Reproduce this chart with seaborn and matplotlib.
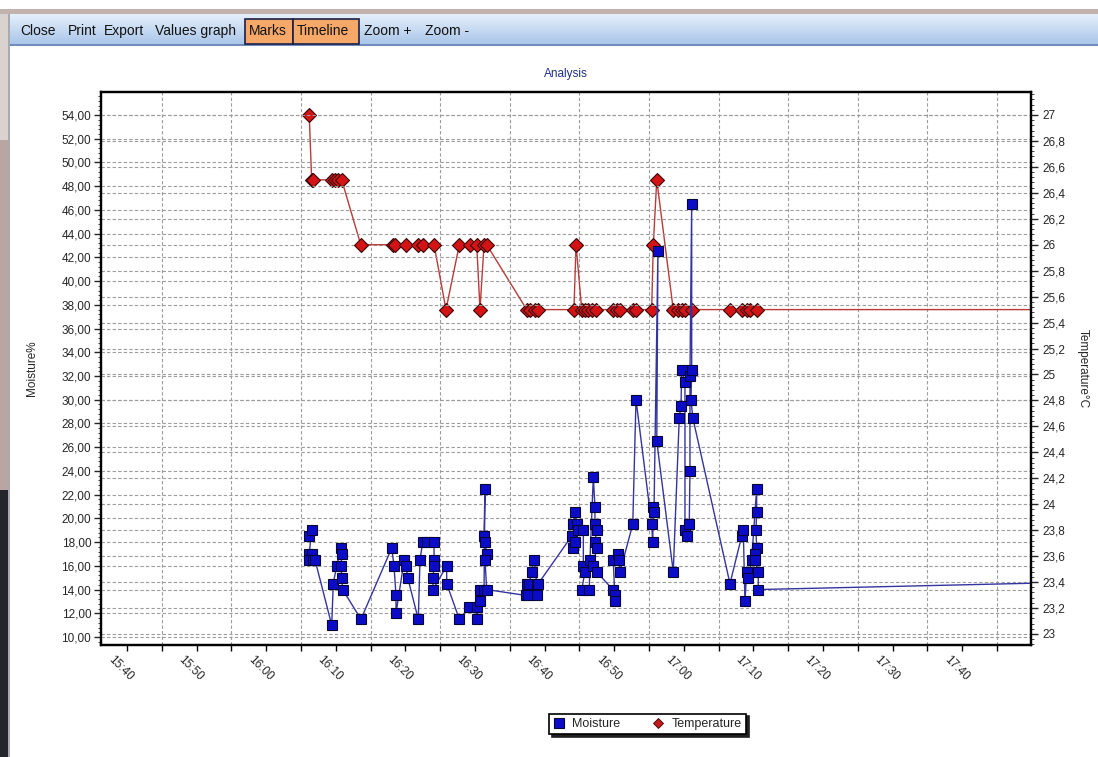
import matplotlib
matplotlib.use("Agg")
import numpy as np
import pandas as pd
import seaborn as sns
import matplotlib.pyplot as plt
import matplotlib.dates as mdates
from matplotlib.ticker import MultipleLocator, AutoMinorLocator, FuncFormatter
from matplotlib.lines import Line2D
from matplotlib.patches import Rectangle
from matplotlib.transforms import ScaledTranslation

DAY = "2015-03-10 "

# moisture readings (left axis), in drawing order
moist_time = [
    "16:06:11", "16:06:32", "16:06:11", "16:06:32", "16:06:11", "16:06:46", "16:07:01",
    "16:09:25", "16:09:38", "16:10:08", "16:10:45", "16:10:51", "16:10:45", "16:10:51", "16:10:59",
    "16:13:37",
    "16:18:02", "16:18:22", "16:18:39", "16:18:39", "16:19:50", "16:20:05", "16:20:20",
    "16:21:51", "16:22:06", "16:22:29", "16:23:04", "16:24:07", "16:24:07", "16:24:07",
    "16:23:58", "16:23:58", "16:25:56", "16:25:56",
    "16:27:45", "16:29:11", "16:30:15", "16:30:15", "16:30:43", "16:30:43", "16:31:18",
    "16:31:26", "16:31:18", "16:31:26", "16:31:41", "16:31:26", "16:31:41",
    "16:37:20", "16:37:26", "16:37:40", "16:37:46", "16:38:09", "16:38:29", "16:38:52",
    "16:38:52", "16:39:06",
    "16:43:53", "16:44:07", "16:44:07", "16:44:22", "16:44:37", "16:44:22", "16:44:50",
    "16:45:34", "16:45:34", "16:45:48", "16:45:20", "16:46:25", "16:46:31", "16:47:00",
    "16:47:14", "16:47:14", "16:47:29", "16:47:14", "16:47:29", "16:47:00", "16:47:29",
    "16:49:47", "16:50:07", "16:50:07", "16:49:52", "16:50:35", "16:50:44", "16:50:50",
    "16:52:40", "16:53:08",
    "16:55:23", "16:55:32", "16:55:37", "16:55:43", "16:56:17", "16:56:07",
    "16:58:29", "16:59:21", "16:59:36", "16:59:42", "17:00:10", "17:00:10", "17:00:25",
    "17:00:47", "17:00:53", "17:00:53", "17:01:08", "17:01:08", "17:01:02", "17:01:17",
    "17:06:38", "17:08:19", "17:08:33", "17:08:47", "17:09:02", "17:09:16", "17:09:45",
    "17:10:28", "17:10:28", "17:10:22", "17:10:28", "17:10:14", "17:10:14", "17:10:42",
    "17:10:42", "17:55:00",
]
moist_value = [
    18.5, 19.0, 17.0, 17.0, 16.5, 16.5, 16.5,
    11.0, 14.5, 16.0, 17.5, 17.0, 16.0, 15.0, 14.0,
    11.5,
    17.5, 16.0, 13.5, 12.0, 16.5, 16.0, 15.0,
    11.5, 16.5, 18.0, 18.0, 18.0, 16.5, 16.0,
    15.0, 14.0, 16.0, 14.5,
    11.5, 12.5, 12.5, 11.5, 13.0, 14.0, 14.0,
    22.5, 18.5, 18.0, 17.0, 16.5, 14.0,
    13.5, 14.5, 13.5, 14.5, 15.5, 16.5, 14.5,
    13.5, 14.5,
    18.5, 17.5, 19.5, 20.5, 19.5, 18.0, 19.0,
    19.0, 16.0, 15.5, 14.0, 14.0, 16.5, 23.5,
    21.0, 19.5, 19.0, 18.0, 17.5, 16.0, 15.5,
    14.0, 13.5, 13.0, 16.5, 17.0, 16.5, 15.5,
    19.5, 30.0,
    19.5, 18.0, 21.0, 20.5, 42.5, 26.5,
    15.5, 28.5, 29.5, 32.5, 31.5, 19.0, 18.5,
    19.5, 24.0, 32.0, 46.5, 32.5, 30.0, 28.5,
    14.5, 18.5, 19.0, 13.0, 15.5, 15.0, 16.5,
    22.5, 20.5, 19.0, 17.5, 17.0, 16.5, 15.5,
    14.0, 14.6,
]

# temperature readings (right axis)
temp_time = [
    "16:06:11", "16:06:32", "16:06:46", "16:09:25", "16:09:53", "16:10:22", "16:10:51",
    "16:13:35", "16:18:16", "16:18:30", "16:20:05", "16:21:51", "16:22:34", "16:24:07",
    "16:25:50", "16:27:45", "16:29:17", "16:30:15", "16:30:43", "16:31:18", "16:31:41",
    "16:37:26", "16:37:54", "16:38:37", "16:39:06",
    "16:44:13", "16:44:31", "16:45:20", "16:45:48", "16:46:17", "16:46:46", "16:47:23",
    "16:49:47", "16:50:22", "16:50:50", "16:52:44", "16:53:12",
    "16:55:23", "16:55:37", "16:56:07", "16:58:29", "16:59:13", "16:59:42", "17:00:10",
    "17:01:08", "17:06:38", "17:08:19", "17:09:02", "17:09:31", "17:10:28", "17:55:00",
]
temp_value = [
    27.0, 26.5, 26.5, 26.5, 26.5, 26.5, 26.5,
    26.0, 26.0, 26.0, 26.0, 26.0, 26.0, 26.0,
    25.5, 26.0, 26.0, 26.0, 25.5, 26.0, 26.0,
    25.5, 25.5, 25.5, 25.5,
    25.5, 26.0, 25.5, 25.5, 25.5, 25.5, 25.5,
    25.5, 25.5, 25.5, 25.5, 25.5,
    25.5, 26.0, 26.5, 25.5, 25.5, 25.5, 25.5,
    25.5, 25.5, 25.5, 25.5, 25.5, 25.5, 25.5,
]

toolbar_items = ["Close", "Print", "Export", "Values graph", "Marks", "Timeline", "Zoom +", "Zoom -"]
toolbar_active = ["Marks", "Timeline"]

W, H = 1098, 757
FONT = ["Liberation Sans", "DejaVu Sans"]

sns.set_style("white")
plt.rcParams["font.family"] = FONT

moist = pd.DataFrame({"time": pd.to_datetime([DAY + t for t in moist_time]), "value": moist_value})
temp = pd.DataFrame({"time": pd.to_datetime([DAY + t for t in temp_time]), "value": temp_value})

fig = plt.figure(figsize=(W / 100, H / 100), dpi=100, facecolor="white")


def fx(px):
    return px / W


def fy(py):
    return 1 - py / H


def px_rect(x0, y0, x1, y1, **kw):
    fig.patches.append(Rectangle((fx(x0), fy(y1)), fx(x1) - fx(x0), fy(y0) - fy(y1),
                                 transform=fig.transFigure, **kw))


# window chrome
px_rect(0, 9, W, 14, facecolor="#c2b2ad", edgecolor="none")
px_rect(0, 14, 8, 140, facecolor="#d9d2cf", edgecolor="none")
px_rect(0, 140, 8, 490, facecolor="#b9a5a1", edgecolor="none")
px_rect(0, 490, 8, H, facecolor="#25252c", edgecolor="none")
px_rect(8, 14, 10, H, facecolor="#a9a9b0", edgecolor="none")

bar = fig.add_axes([fx(10), fy(45), fx(W) - fx(10), fy(14) - fy(45)])
grad = np.linspace(0, 1, 64)[:, None, None]
top_c = np.array([0.90, 0.94, 0.985])
bot_c = np.array([0.66, 0.77, 0.91])
bar.imshow(top_c + (bot_c - top_c) * grad, aspect="auto", extent=(0, 1, 0, 1))
bar.set_axis_off()
px_rect(10, 44, W, 45.5, facecolor="#6f8cba", edgecolor="none")

item_x = [20, 68, 104, 155, 249, 297, 364, 425]
box_span = {"Marks": (245, 293), "Timeline": (293, 359)}
for name, x in zip(toolbar_items, item_x):
    if name in toolbar_active:
        x0, x1 = box_span[name]
        px_rect(x0, 19, x1, 44, facecolor="#f6a868", edgecolor="#1b1f4a", linewidth=1.2)
    fig.text(fx(x), fy(31), name, ha="left", va="center", fontsize=10, color="#111111")

# chart
ax = fig.add_axes([fx(101), fy(645), fx(1031) - fx(101), fy(92) - fy(645)])
ax2 = ax.twinx()
ax.set_zorder(ax2.get_zorder() + 1)
ax.patch.set_visible(False)
ax2.patch.set_visible(True)
ax2.patch.set_facecolor("white")

sns.lineplot(data=temp, x="time", y="value", ax=ax2, sort=False, estimator=None,
             color="#b83a3a", linewidth=1.0, marker="D", markersize=7.5,
             markerfacecolor="#d41414", markeredgecolor="#3a0505", markeredgewidth=0.8,
             legend=False)
sns.lineplot(data=moist, x="time", y="value", ax=ax, sort=False, estimator=None,
             color="#3434a0", linewidth=1.0, marker="s", markersize=7.8,
             markerfacecolor="#0c0cc8", markeredgecolor="#05053a", markeredgewidth=0.8,
             legend=False)

ax.set_xlim(pd.Timestamp(DAY + "15:36:16"), pd.Timestamp(DAY + "17:49:53"))
ax.set_ylim(9.326, 55.94)
ax2.set_ylim(22.915, 27.177)

ax.xaxis.set_major_locator(mdates.MinuteLocator(byminute=range(0, 60, 10)))
ax.xaxis.set_minor_locator(mdates.MinuteLocator(byminute=range(5, 60, 10)))
ax.xaxis.set_major_formatter(mdates.DateFormatter("%H:%M"))

ax.yaxis.set_major_locator(MultipleLocator(2))
ax.yaxis.set_minor_locator(AutoMinorLocator(5))
ax.yaxis.set_major_formatter(FuncFormatter(lambda v, p: f"{v:.2f}".replace(".", ",")))


def temp_fmt(v, p):
    s = f"{v:.1f}"
    if s.endswith(".0"):
        s = s[:-2]
    return s.replace(".", ",")


ax2.yaxis.set_major_locator(MultipleLocator(0.2))
ax2.yaxis.set_minor_locator(AutoMinorLocator(5))
ax2.yaxis.set_major_formatter(FuncFormatter(temp_fmt))

grid_kw = dict(color="#9c9c9c", linestyle=(0, (3.0, 2.0)), linewidth=0.8)
ax.grid(False)
ax2.grid(False)
ax.yaxis.grid(True, which="major", **grid_kw)
ax2.yaxis.grid(True, which="major", **grid_kw)
ax2.xaxis.set_visible(True)
ax2.xaxis.grid(True, which="minor", **grid_kw)
ax2.tick_params(axis="x", which="both", bottom=False, top=False, labelbottom=False)

ax.tick_params(axis="x", which="both", direction="out", length=4, width=1, color="black",
               labelsize=8.5, pad=2, bottom=True)
ax.tick_params(axis="y", which="major", direction="out", length=5, width=1, labelsize=8.5, pad=2, left=True)
ax.tick_params(axis="y", which="minor", direction="out", length=2.5, width=0.6, left=True)
ax2.tick_params(axis="y", which="major", direction="out", length=5, width=1, labelsize=8.5, pad=3, right=True)
ax2.tick_params(axis="y", which="minor", direction="out", length=2.5, width=0.6, right=True)

shift = ScaledTranslation(-6 / 100, 0, fig.dpi_scale_trans)
for lbl in ax.get_xticklabels():
    lbl.set_rotation(-45)
    lbl.set_ha("center")
    lbl.set_va("top")
    lbl.set_transform(lbl.get_transform() + shift)

for a in (ax, ax2):
    for s in a.spines.values():
        s.set_visible(True)
        s.set_color("black")
        s.set_linewidth(1.6)

ax.set_xlabel("")
ax2.set_xlabel("")
ax.set_ylabel("Moisture%", fontsize=8.5)
ax.yaxis.set_label_coords((38 - 101) / 930, 0.5)
ax2.set_ylabel("Temperature°C", fontsize=8.5, rotation=-90, va="center")
ax2.yaxis.set_label_coords((1083 - 101) / 930, 0.5)

fig.text(fx(566), fy(74), "Analysis", ha="center", va="center", fontsize=8.5, color="#1f2f86")

handles = [
    Line2D([], [], linestyle="none", marker="s", markersize=6.5,
           markerfacecolor="#0c0cc8", markeredgecolor="#05053a", markeredgewidth=0.8),
    Line2D([], [], linestyle="none", marker="D", markersize=5,
           markerfacecolor="#c41a1a", markeredgecolor="#3a0505", markeredgewidth=0.6),
]
leg = fig.legend(handles, ["Moisture", "Temperature"], loc="center",
                 bbox_to_anchor=(fx(647.5), fy(724)), ncol=2, frameon=True, fancybox=False,
                 shadow={"color": "#202020", "alpha": 1.0}, edgecolor="black", framealpha=1,
                 fontsize=9, handlelength=0.9, handletextpad=0.6, columnspacing=2.6,
                 borderpad=0.35)
leg.get_frame().set_linewidth(1.2)

fig.savefig("out.png", dpi=100, facecolor="white")
